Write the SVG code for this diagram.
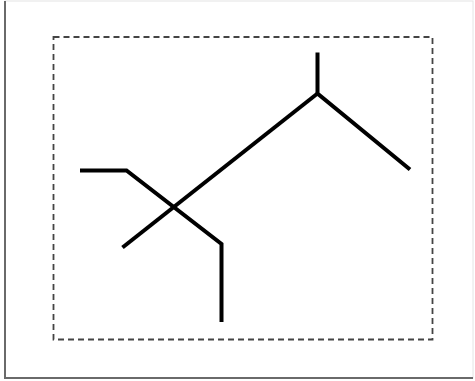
<svg xmlns="http://www.w3.org/2000/svg" width="475" height="381" viewBox="0 0 475 381">
<style>
.frame{fill:#fff;stroke:#e4e4e4;stroke-width:1}
.frame-dark{stroke:#6a6a6a;stroke-width:2;fill:none}
.dash{fill:none;stroke:#444;stroke-width:1.8;stroke-dasharray:6 4}
.bond{fill:none;stroke:#000;stroke-width:4;stroke-linecap:butt;stroke-linejoin:miter}
</style>
<rect width="475" height="381" fill="#fff"/>
<g id="frame">
<rect class="frame" x="5" y="1" width="468" height="377"/>
<polyline class="frame-dark" points="5,1 5,378 473,378"/>
</g>
<g id="box">
<rect class="dash" x="53.5" y="37" width="379" height="302.5"/>
</g>
<g id="connectors">
<polyline class="bond" points="317.5,52.5 317.5,93.5 410,169.5"/>
<polyline class="bond" points="122.5,247.5 317.5,93.5"/>
<polyline class="bond" points="80,170.5 126.5,170.5 221.5,244 221.5,322"/>
</g>
</svg>
